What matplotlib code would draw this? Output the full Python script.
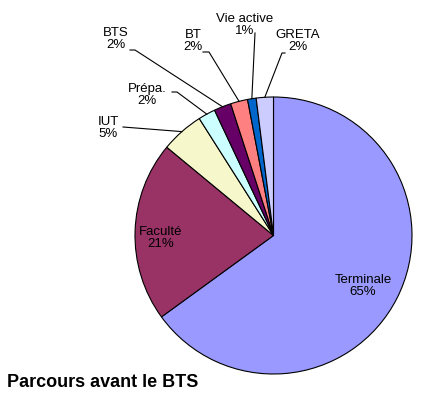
import numpy as np
import matplotlib
matplotlib.use("Agg")
import matplotlib.pyplot as plt

plt.rcParams['font.family'] = ['Liberation Sans', 'DejaVu Sans']

# données : parcours avant le BTS (en %)
parcours = ['Terminale', 'Faculté', 'IUT', 'Prépa.', 'BTS', 'BT', 'Vie active', 'GRETA']
pourcent = [65, 21, 5, 2, 2, 2, 1, 2]
couleurs = ['#9999FF', '#993366', '#F7F7CC', '#CCFFFF', '#660066', '#FF8080', '#0066CC', '#CCCCFF']

W, H = 440, 396
cx, cy, R = 273.5, 235.5, 138.5   # centre et rayon du camembert (pixels)

def px(x, y):
    # pixel image -> coordonnees du camembert
    return (x - cx) / R, (cy - y) / R

fig = plt.figure(figsize=(W / 100, H / 100), dpi=100)
ax = fig.add_axes([0, 0, 1, 1])

wedges, _ = ax.pie(pourcent, colors=couleurs, startangle=90, counterclock=False,
                   wedgeprops=dict(edgecolor='black', linewidth=0.8))
ax.set_aspect('auto')
ax.set_xlim(px(0, 0)[0], px(W, 0)[0])
ax.set_ylim(px(0, H)[1], px(0, 0)[1])
ax.axis('off')

# position des etiquettes (pixels) et depart des traits de rappel
pos_texte = [(363, 286), (161, 238), (108, 128), (147, 95), (116, 39), (193, 41), (245, 25), (298, 41)]
depart_trait = [None, None, [(123, 127)], [(172, 92), (177, 92)], [(130, 50), (135, 50)],
                [(203, 52), (209, 52)], [(255, 33)], [(285, 53), (282, 53)]]

for w, nom, p, pos, trait in zip(wedges, parcours, pourcent, pos_texte, depart_trait):
    tx, ty = px(*pos)
    ax.text(tx, ty, f"{nom}\n{p}%", ha='center', va='center', fontsize=9.5,
            linespacing=1.1, color='black')
    if trait is not None:
        a = np.deg2rad((w.theta1 + w.theta2) / 2)
        pts = [px(*q) for q in trait] + [(np.cos(a), np.sin(a))]
        xs, ys = zip(*pts)
        ax.plot(xs, ys, color='black', lw=0.8)

fig.text(7 / W, 1 - 387 / H, "Parcours avant le BTS", fontsize=13, fontweight='bold',
         ha='left', va='baseline')

fig.savefig('out.png', dpi=100)
